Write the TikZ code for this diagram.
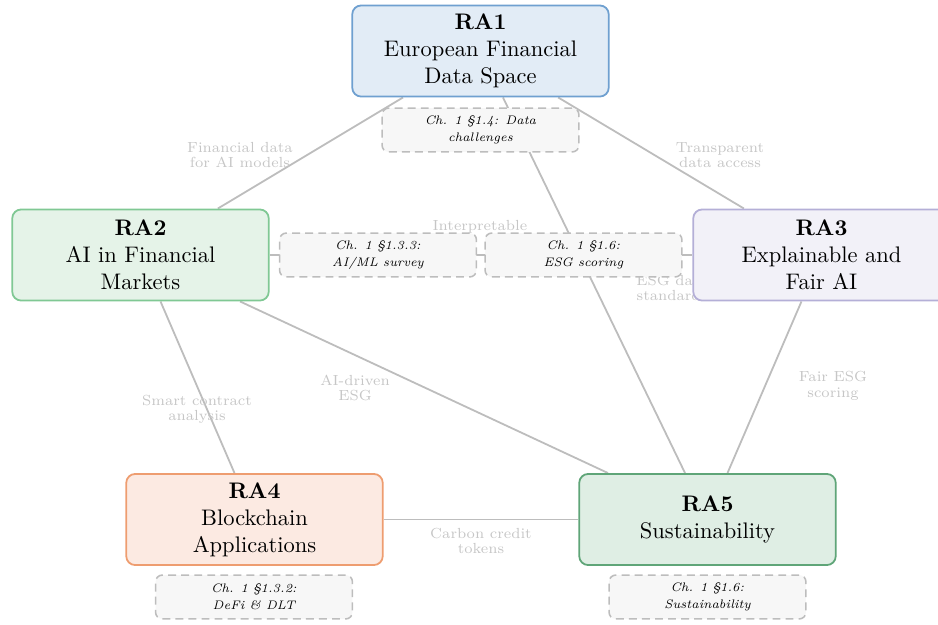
\documentclass[tikz,border=0pt]{standalone}
\usetikzlibrary{backgrounds}
\definecolor{ebl}{HTML}{6FA0D0}\definecolor{fbl}{HTML}{E2ECF6}
\definecolor{egr}{HTML}{80C894}\definecolor{fgr}{HTML}{E5F3E8}
\definecolor{epu}{HTML}{B4AFD7}\definecolor{fpu}{HTML}{F2F1F8}
\definecolor{eor}{HTML}{EE9D70}\definecolor{for}{HTML}{FCEAE2}
\definecolor{edg}{HTML}{5FA578}\definecolor{fdg}{HTML}{DFEEE4}
\definecolor{lnk}{HTML}{BDBDBD}\definecolor{lbc}{HTML}{C6C6C6}
\tikzset{
  ra/.style={draw, rounded corners=4pt, line width=0.8pt, minimum width=114pt, minimum height=40.5pt, align=center, font=\normalsize},
  chap/.style={draw=lnk, dash pattern=on 3.5pt off 2.3pt, fill=black!3, rounded corners=3pt, line width=0.7pt, minimum width=87.5pt, minimum height=19.5pt, align=center, font=\fontsize{5.5}{7.4}\selectfont\itshape},
  edge/.style={draw=lnk, line width=0.8pt},
  lbl/.style={text=lbc, font=\fontsize{6.5}{6.8}\selectfont, align=center, inner sep=0pt}
}
\begin{document}
\begin{tikzpicture}[x=0.4444pt, y=-0.4444pt]
\useasboundingbox (0,0) rectangle (938,624);
\node[ra, draw=ebl, fill=fbl] (ra1) at (480.5,51) {\textbf{RA1}\\European Financial\\Data Space};
\node[ra, draw=egr, fill=fgr] (ra2) at (140.5,255) {\textbf{RA2}\\AI in Financial\\Markets};
\node[ra, draw=epu, fill=fpu] (ra3) at (821.5,255) {\textbf{RA3}\\Explainable and\\Fair AI};
\node[ra, draw=eor, fill=for] (ra4) at (254.5,519.5) {\textbf{RA4}\\Blockchain\\Applications};
\node[ra, draw=edg, fill=fdg] (ra5) at (707.5,519.5) {\textbf{RA5}\\Sustainability};
\node[chap] (c14) at (480.5,130) {Ch. 1 \S1.4: Data\\challenges};
\node[chap] (c133) at (378,255) {Ch. 1 \S1.3.3:\\AI/ML survey};
\node[chap] (c16a) at (583.5,255) {Ch. 1 \S1.6:\\ESG scoring};
\node[chap] (c132) at (254,597) {Ch. 1 \S1.3.2:\\DeFi \& DLT};
\node[chap] (c16b) at (707.5,597) {Ch. 1 \S1.6:\\Sustainability};
\begin{scope}[on background layer]
\draw[edge] (ra1) -- (ra2);
\draw[edge] (ra1) -- (ra3);
\draw[edge] (ra1) -- (ra5);
\draw[edge] (ra2) -- (ra3);
\draw[edge] (ra2) -- (ra4);
\draw[edge] (ra2) -- (ra5);
\draw[edge] (ra3) -- (ra5);
\draw[edge] (ra4) -- (ra5);
\node[lbl] (l1) at (240,155) {Financial data\\for AI models};
\node[lbl] (l2) at (720,155) {Transparent\\data access};
\node[lbl] (l3) at (480,227) {Interpretable};
\node[lbl] (l4) at (672,288) {ESG data\\standards};
\node[lbl] (l5) at (197,409) {Smart contract\\analysis};
\node[lbl] (l6) at (355,388) {AI-driven\\ESG};
\node[lbl] (l7) at (833,386) {Fair ESG\\scoring};
\node[lbl] (l8) at (481,541) {Carbon credit\\tokens};
\end{scope}
\end{tikzpicture}
\end{document}
